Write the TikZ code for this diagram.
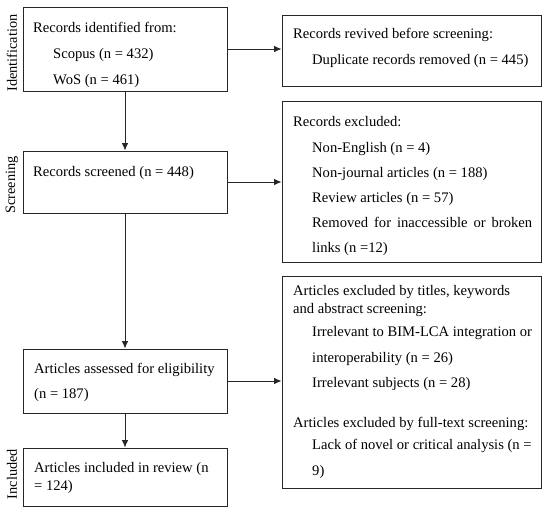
\documentclass[tikz,border=0pt]{standalone}
\usepackage{fontspec}
\setmainfont{Liberation Serif}
\usetikzlibrary{arrows.meta}
\begin{document}
\begin{tikzpicture}[x=1pt,y=-1pt,
  box/.style={draw=black!85,line width=0.9pt,inner sep=0pt,rectangle},
  txt/.style={anchor=base west,inner sep=0pt,font=\fontsize{14.6}{16}\selectfont},
  side/.style={rotate=90,inner sep=0pt,font=\fontsize{14.3}{16}\selectfont},
  arr/.style={draw=black!85,line width=0.9pt,-{Latex[length=7.5pt,width=6.5pt]}}]
\useasboundingbox (0,0) rectangle (550,515);
% boxes
\node[box,minimum width=204pt,minimum height=84pt] (b1) at (125,49) {};
\node[box,minimum width=204pt,minimum height=62pt] (b2) at (125,182) {};
\node[box,minimum width=204pt,minimum height=64pt] (b3) at (125,381) {};
\node[box,minimum width=204pt,minimum height=58pt] (b4) at (125,477) {};
\node[box,minimum width=259pt,minimum height=71pt] (r1) at (411.5,50.5) {};
\node[box,minimum width=259pt,minimum height=161pt] (r2) at (411.5,181.5) {};
\node[box,minimum width=259pt,minimum height=212pt] (r3) at (411.5,382) {};
% side labels
\node[side] (s1) at (12,53) {Identification};
\node[side] (s2) at (12,185) {Screening};
\node[side] (s3) at (12,474) {Included};
% texts left
\node[txt] (t11) at (33,32) {Records identified from:};
\node[txt] (t12) at (53,58) {Scopus (n = 432)};
\node[txt] (t13) at (53,84) {WoS (n = 461)};
\node[txt] (t21) at (33,176) {Records screened (n = 448)};
\node[txt] (t31) at (34,373) {Articles assessed for eligibility};
\node[txt] (t32) at (34,398) {(n = 187)};
\node[txt] (t41) at (34,472) {Articles included in review (n};
\node[txt] (t42) at (34,490) {= 124)};
% texts right
\node[txt] (u11) at (293,38) {Records revived before screening:};
\node[txt] (u12) at (312,64) {Duplicate records removed (n = 445)};
\node[txt] (u21) at (293,126) {Records excluded:};
\node[txt] (u22) at (312,152) {Non-English (n = 4)};
\node[txt] (u23) at (312,177) {Non-journal articles (n = 188)};
\node[txt] (u24) at (312,202) {Review articles (n = 57)};
\node[txt] (u25) at (312,227) {\makebox[220pt][s]{Removed for inaccessible or broken}};
\node[txt] (u26) at (312,252) {links (n =12)};
\node[txt] (u31) at (293,295) {Articles excluded by titles, keywords};
\node[txt] (u32) at (293,313) {and abstract screening:};
\node[txt] (u33) at (312,336) {Irrelevant to BIM-LCA integration or};
\node[txt] (u34) at (312,362) {interoperability (n = 26)};
\node[txt] (u35) at (312,387) {Irrelevant subjects (n = 28)};
\node[txt] (u36) at (293,427) {Articles excluded by full-text screening:};
\node[txt] (u37) at (312,449) {Lack of novel or critical analysis (n =};
\node[txt] (u38) at (312,475) {9)};
% connectors
\draw[arr] (b1) -- (b2);
\draw[arr] (b2) -- (b3);
\draw[arr] (b3) -- (b4);
\draw[arr] (b1.east) -- (b1.east -| r1.west);
\draw[arr] (b2.east) -- (b2.east -| r2.west);
\draw[arr] (b3.east) -- (b3.east -| r3.west);
\end{tikzpicture}
\end{document}
